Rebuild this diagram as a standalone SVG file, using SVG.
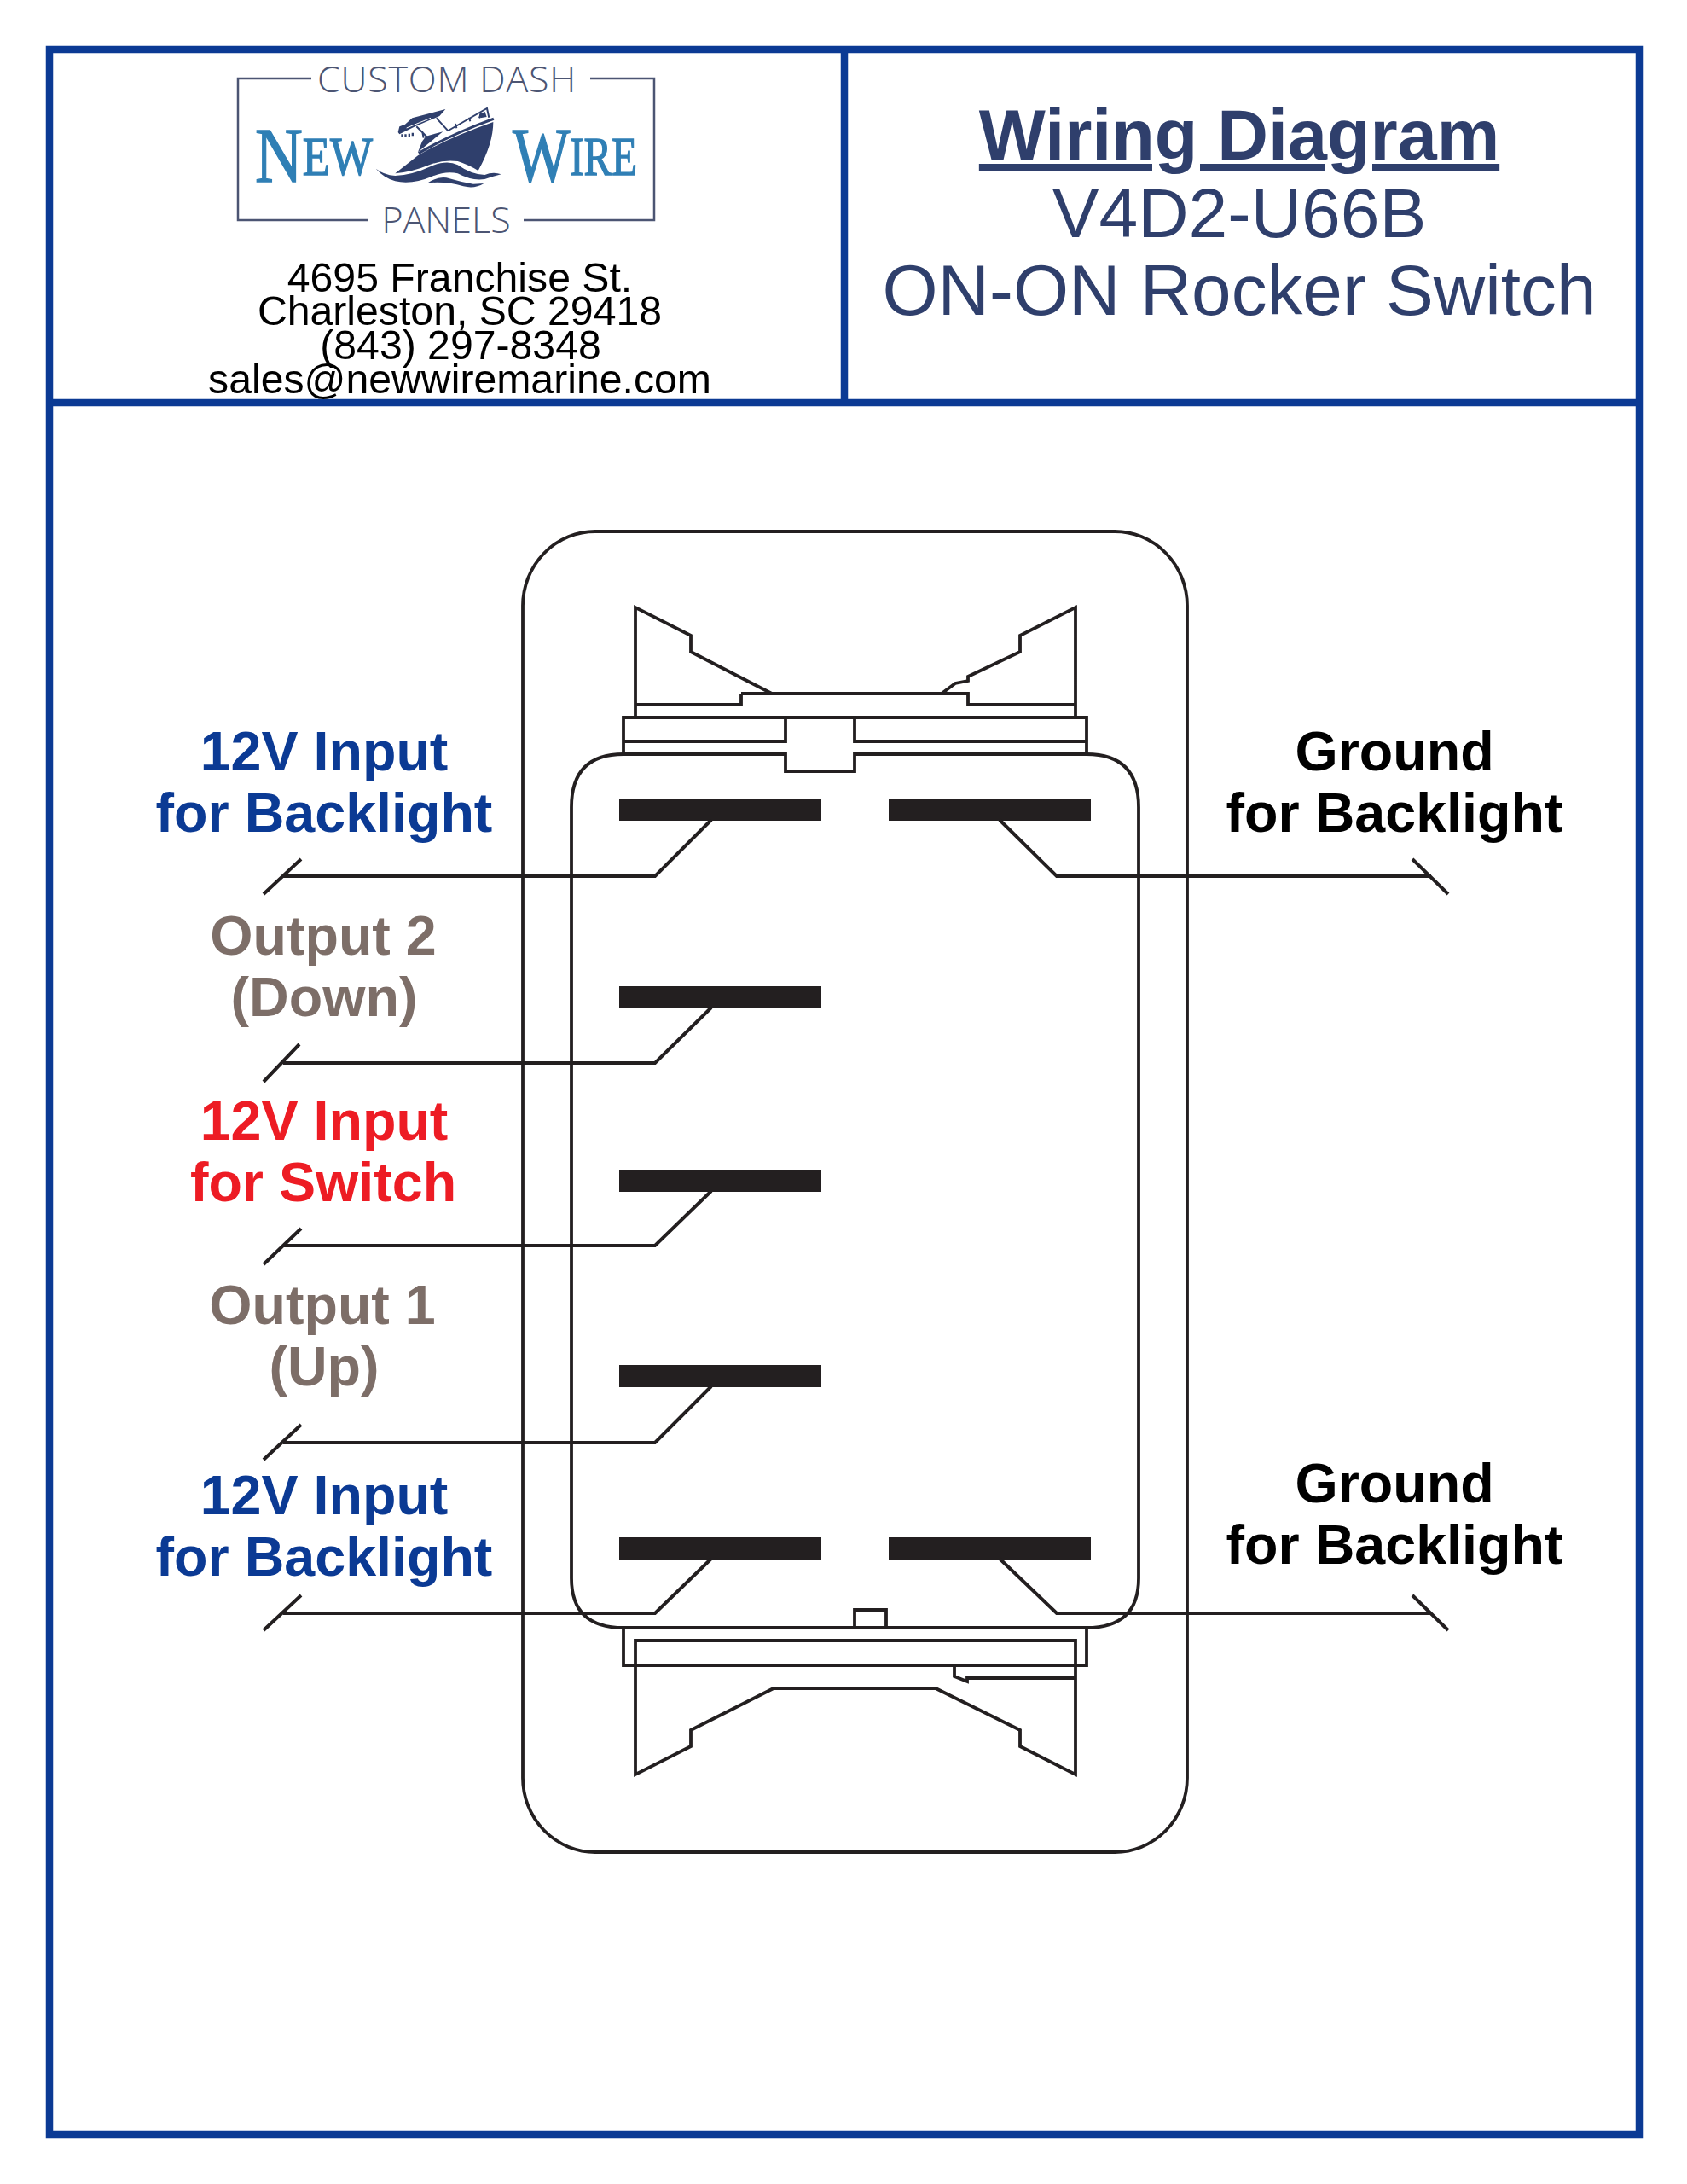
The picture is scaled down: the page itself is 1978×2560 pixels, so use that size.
<svg xmlns="http://www.w3.org/2000/svg" width="1978" height="2560" viewBox="0 0 1978 2560">
<style>
.frame{fill:none;stroke:#0b3a94;stroke-width:8.5}
.sw{fill:none;stroke:#231f20;stroke-width:3.8;stroke-linejoin:miter}
.lead{fill:none;stroke:#231f20;stroke-width:4}
.term{fill:#231f20}
.logoline{fill:none;stroke:#4c5573;stroke-width:2.5}
.logolabel{font-family:"Open Sans","Liberation Sans",sans-serif;font-weight:300;fill:#4c5573;text-anchor:middle}
.brand{font-family:"Liberation Serif",serif;fill:#2f7fb5;stroke:#2f7fb5;stroke-width:1.4}
.boat{fill:#2f3f6c}
.addr{font-family:"Liberation Sans",Arial,sans-serif;font-size:48.2px;fill:#000;text-anchor:middle}
.title{font-family:"Liberation Sans",Arial,sans-serif;fill:#2f3f6c;text-anchor:middle}
.lbl{font-family:"Liberation Sans",Arial,sans-serif;font-size:64.6px;font-weight:700;text-anchor:middle}
.blue{fill:#0b3a94}.brown{fill:#7d6e68}.red{fill:#ed1c24}.black{fill:#000}
</style>
<rect width="1978" height="2560" fill="#fff"/>
<g id="frame">
<rect class="frame" x="58" y="58" width="1864" height="2444"/>
<path class="frame" d="M58 472H1922M990 58V472"/>
</g>
<g id="logo">
<path class="logoline" d="M365 92H279V258H432M614 258H767V92H692"/>
<text class="logolabel" x="524" y="108" font-size="43" letter-spacing="0.8">CUSTOM DASH</text>
<text class="logolabel" x="523" y="273" font-size="43">PANELS</text>
<text class="brand" x="299" y="213" font-size="92" textLength="138" lengthAdjust="spacingAndGlyphs">N<tspan font-size="63" dy="-8">EW</tspan></text>
<text class="brand" x="601" y="213" font-size="92" textLength="146" lengthAdjust="spacingAndGlyphs">W<tspan font-size="63" dy="-8">IRE</tspan></text>
<g transform="translate(440 125) scale(.3333)">
<path class="boat" d="M70 235L150 172Q250 112 415 54Q415 130 362 225Q330 205 290 192Q240 185 190 205Q130 230 70 235Z"/>
<path class="boat" d="M150 160Q260 95 415 38L418 47Q270 100 155 168Z"/>
<path class="boat" d="M150 160L165 122L178 104L238 88L172 142Z"/>
<path class="boat" d="M80 90L85 70L105 62L130 40L247 9L226 33L140 70L85 97Z"/>
<path d="M145 70L187 112M215 40L257 86M257 84L393 6L400 38M282 60L286 76M330 38L334 52M372 22L366 40M165 85L170 110" fill="none" stroke="#2f3f6c" stroke-width="6"/>
<path d="M366 26l20-8 6 18-22 4z" class="boat"/>
<path class="boat" d="M91 97h7v11h-7zM103 97h7v11h-7zM116 95h7v11h-7zM128 92h7v11h-7z"/>
<path d="M110 75L195 40" fill="none" stroke="#fff" stroke-width="3"/>
<path class="boat" d="M2 218Q30 250 70 262Q130 275 200 245Q250 225 290 235Q340 262 385 255Q415 245 443 238Q415 228 385 240Q340 240 290 205Q250 185 190 212Q130 240 70 243Q30 240 2 218Z"/>
<path class="boat" d="M185 268Q220 245 250 250Q300 265 345 272L382 270Q350 290 310 280Q250 262 185 268Z"/>
</g>
</g>
<g id="address">
<text class="addr" x="539" y="342">4695 Franchise St.</text>
<text class="addr" x="539" y="381">Charleston, SC 29418</text>
<text class="addr" x="540" y="421">(843) 297-8348</text>
<text class="addr" x="539" y="461">sales@newwiremarine.com</text>
</g>
<g id="title">
<text class="title" x="1453" y="187" font-size="82.7" font-weight="700" text-decoration="underline">Wiring Diagram</text>
<text class="title" x="1453" y="278" font-size="82.2">V4D2-U66B</text>
<text class="title" x="1453" y="369" font-size="83.7">ON-ON Rocker Switch</text>
</g>
<g id="switch-body">
<rect class="sw" x="613" y="623" width="779" height="1548" rx="85" ry="87"/>
<path class="sw" d="M670 1850V946Q670 884 731 884H921V904H1002V884H1274Q1335 884 1335 946V1850Q1335 1908 1274 1908H731Q670 1908 670 1850Z"/>
<path class="sw" d="M731 884V841H1274V884M731 869H921V841M1002 841V869H1274"/>
<path class="sw" d="M745 841V712L810 745V764L905 813M869 813H1135V826H1261M745 826H869V813M1261 841V712L1196 745V764L1135 793V798L1120 801L1104 813"/>
<path class="sw" d="M1002 1908V1887H1039V1908M731 1908V1952H1274V1908"/>
<path class="sw" d="M745 1923H1261V2080L1196 2047V2028L1097 1979H907L810 2028V2047L745 2080Z"/>
<path class="sw" d="M1119 1952V1965L1134 1971V1967H1261"/>
</g>
<g id="terminals">
<rect class="term" x="726" y="936" width="237" height="26"/>
<rect class="term" x="1042" y="936" width="237" height="26"/>
<rect class="term" x="726" y="1156" width="237" height="26"/>
<rect class="term" x="726" y="1371" width="237" height="26"/>
<rect class="term" x="726" y="1600" width="237" height="26"/>
<rect class="term" x="726" y="1802" width="237" height="26"/>
<rect class="term" x="1042" y="1802" width="237" height="26"/>
</g>
<g id="connectors">
<path class="lead" d="M834 961L768 1027H332M353 1007L309 1048"/>
<path class="lead" d="M1172 961L1239 1027H1678M1656 1007L1698 1048"/>
<path class="lead" d="M834 1181L768 1246H332M351 1224L309 1268"/>
<path class="lead" d="M834 1396L768 1460H332M353 1440L309 1482"/>
<path class="lead" d="M834 1625L768 1691H332M353 1670L309 1711"/>
<path class="lead" d="M834 1827L768 1891H332M353 1870L309 1911"/>
<path class="lead" d="M1172 1827L1239 1891H1678M1656 1870L1698 1911"/>
</g>
<g id="label-backlight-in-top"><text class="lbl blue" x="380" y="903">12V Input</text><text class="lbl blue" x="380" y="975">for Backlight</text></g>
<g id="label-output-2"><text class="lbl brown" x="379" y="1119">Output 2</text><text class="lbl brown" x="380" y="1191">(Down)</text></g>
<g id="label-switch-in"><text class="lbl red" x="380" y="1336">12V Input</text><text class="lbl red" x="379" y="1408">for Switch</text></g>
<g id="label-output-1"><text class="lbl brown" x="378" y="1552">Output 1</text><text class="lbl brown" x="380" y="1624">(Up)</text></g>
<g id="label-backlight-in-bottom"><text class="lbl blue" x="380" y="1775">12V Input</text><text class="lbl blue" x="380" y="1847">for Backlight</text></g>
<g id="label-ground-top"><text class="lbl black" x="1635" y="903">Ground</text><text class="lbl black" x="1635" y="975">for Backlight</text></g>
<g id="label-ground-bottom"><text class="lbl black" x="1635" y="1761">Ground</text><text class="lbl black" x="1635" y="1833">for Backlight</text></g>
</svg>
